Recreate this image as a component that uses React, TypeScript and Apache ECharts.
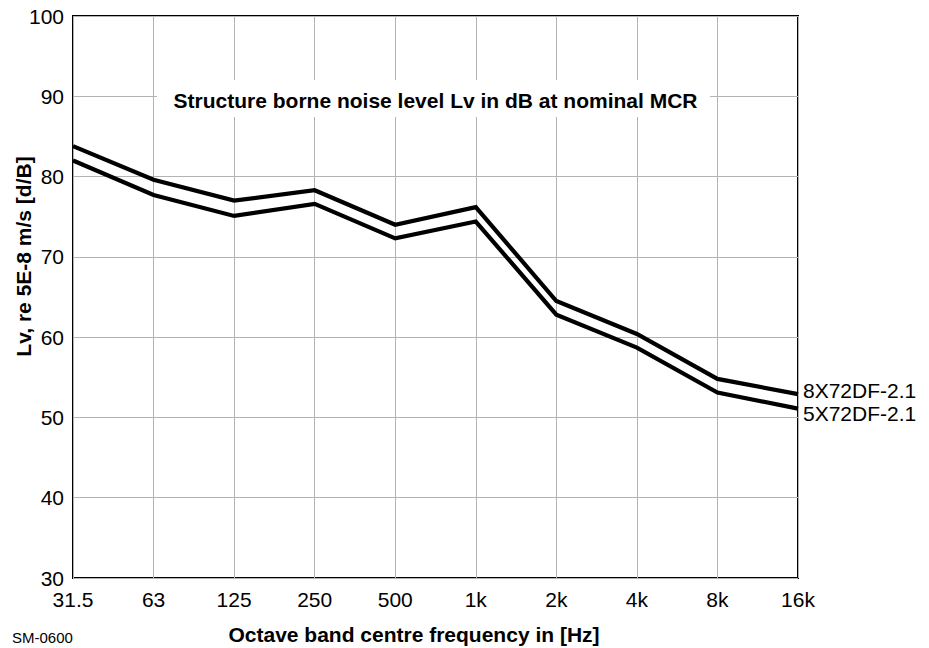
import React, { useEffect, useRef } from "react";
import * as echarts from "echarts";

const categories = ["31.5", "63", "125", "250", "500", "1k", "2k", "4k", "8k", "16k"];
const series8X = [83.8, 79.6, 77.0, 78.3, 74.0, 76.2, 64.5, 60.4, 54.8, 52.9];
const series5X = [82.0, 77.7, 75.1, 76.6, 72.3, 74.4, 62.8, 58.7, 53.1, 51.1];
const seriesNames = ["8X72DF-2.1", "5X72DF-2.1"];
const titleText = "Structure borne noise level Lv in dB at nominal MCR";
const xName = "Octave band centre frequency in [Hz]";
const yName = "Lv, re 5E-8 m/s [d/B]";
const codeText = "SM-0600";

const FONT = "'Liberation Sans', Arial, Helvetica, sans-serif";

export default function App() {
  const ref = useRef<HTMLDivElement>(null);
  useEffect(() => {
    if (!ref.current) return;
    const chart = echarts.init(ref.current, null, { renderer: "svg" });
    const grid = { left: 73, top: 16, width: 725, height: 562 };
    chart.setOption({
      animation: false,
      backgroundColor: "#ffffff",
      textStyle: { fontFamily: FONT },
      grid: {
        ...grid,
        show: true,
        borderColor: "#000",
        borderWidth: 2,
        backgroundColor: "transparent",
        containLabel: false,
        outerBoundsMode: "none",
      },
      xAxis: {
        type: "category",
        data: categories,
        boundaryGap: false,
        axisLine: { show: false },
        axisTick: { show: false },
        axisLabel: { color: "#000", fontSize: 21, margin: 11, fontFamily: FONT },
        splitLine: { show: true, lineStyle: { color: "#b3b3b3", width: 1 } },
      },
      yAxis: {
        type: "value",
        min: 30,
        max: 100,
        interval: 10,
        axisLine: { show: false },
        axisTick: { show: false },
        axisLabel: { color: "#000", fontSize: 21, margin: 9, fontFamily: FONT },
        splitLine: { show: true, lineStyle: { color: "#b3b3b3", width: 1 } },
      },
      series: [
        {
          name: seriesNames[0],
          type: "line",
          data: series8X,
          symbol: "none",
          lineStyle: { color: "#000", width: 4.2, join: "miter" },
          endLabel: {
            show: true,
            formatter: seriesNames[0],
            color: "#000",
            fontSize: 21,
            fontFamily: FONT,
            distance: 5,
            offset: [0, -4],
          },
          z: 3,
        },
        {
          name: seriesNames[1],
          type: "line",
          data: series5X,
          symbol: "none",
          lineStyle: { color: "#000", width: 4.2, join: "miter" },
          endLabel: {
            show: true,
            formatter: seriesNames[1],
            color: "#000",
            fontSize: 21,
            fontFamily: FONT,
            distance: 5,
            offset: [0, 5],
          },
          z: 3,
        },
      ],
      graphic: [
        {
          type: "rect",
          shape: { x: 157, y: 80, width: 553, height: 37 },
          style: { fill: "#fff" },
          z: 10,
        },
        {
          type: "text",
          x: 435.5,
          y: 100,
          z: 11,
          style: {
            text: titleText,
            fill: "#000",
            font: `bold 21px ${FONT}`,
            textAlign: "center",
            textVerticalAlign: "middle",
          },
        },
        {
          type: "text",
          x: 414,
          y: 634,
          z: 11,
          style: {
            text: xName,
            fill: "#000",
            font: `bold 21px ${FONT}`,
            textAlign: "center",
            textVerticalAlign: "middle",
          },
        },
        {
          type: "text",
          x: 23,
          y: 256.5,
          rotation: Math.PI / 2,
          z: 11,
          style: {
            text: yName,
            fill: "#000",
            font: `bold 21px ${FONT}`,
            textAlign: "center",
            textVerticalAlign: "middle",
          },
        },
        {
          type: "text",
          x: 12,
          y: 637,
          z: 11,
          style: {
            text: codeText,
            fill: "#000",
            font: `15px ${FONT}`,
            textAlign: "left",
            textVerticalAlign: "middle",
          },
        },
      ],
    });
    return () => chart.dispose();
  }, []);
  return (
    <div
      ref={ref}
      style={{ position: "fixed", left: 0, top: 0, width: 929, height: 648, background: "#fff" }}
    />
  );
}
